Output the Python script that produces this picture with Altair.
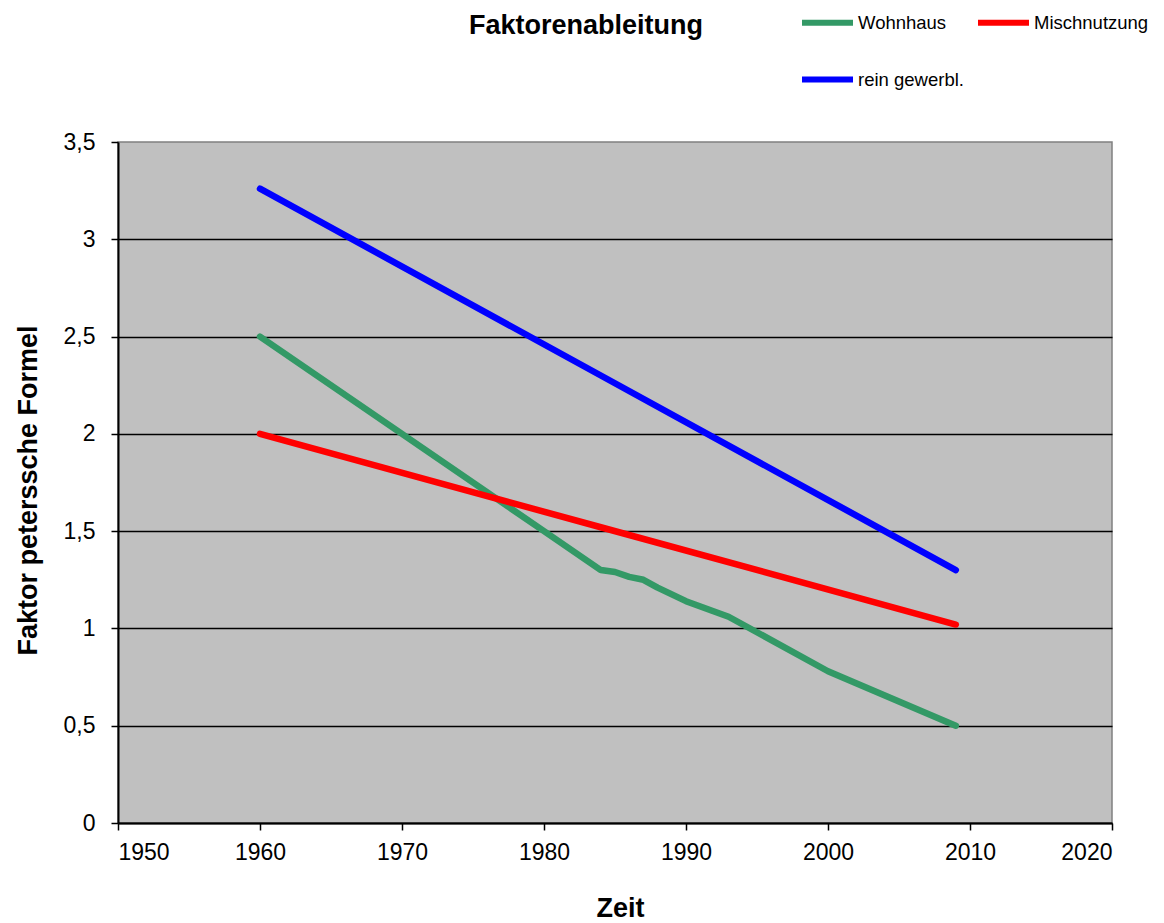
import altair as alt
import pandas as pd

# --- data ---
wohn_years = [1960, 1970, 1980, 1984, 1985, 1986, 1987, 1988, 1990, 1993, 2000, 2009]
wohn_vals = [2.50, 2.00, 1.50, 1.30, 1.29, 1.265, 1.25, 1.21, 1.14, 1.06, 0.78, 0.50]
misch_years = [1960, 1984, 2009]
misch_vals = [2.00, 1.52, 1.02]
gew_years = [1960, 1984, 2009]
gew_vals = [3.26, 2.30, 1.30]

series_names = ["Wohnhaus", "Mischnutzung", "rein gewerbl."]
series_colors = ["#339966", "#FF0000", "#0000FF"]
x_ticks = [1950, 1960, 1970, 1980, 1990, 2000, 2010, 2020]
y_ticks = [0, 0.5, 1, 1.5, 2, 2.5, 3, 3.5]

rows = []
for name, ys, vs in zip(series_names,
                        [wohn_years, misch_years, gew_years],
                        [wohn_vals, misch_vals, gew_vals]):
    for y, v in zip(ys, vs):
        rows.append({"Jahr": y, "Faktor": v, "Serie": name})
df = pd.DataFrame(rows)

FONT = "Liberation Sans"

chart = alt.Chart(df).mark_line(strokeWidth=6.5, strokeCap="round", strokeJoin="round").encode(
    x=alt.X("Jahr:Q",
            scale=alt.Scale(domain=[1950, 2020], nice=False, zero=False),
            axis=alt.Axis(values=x_ticks, format="d", title="Zeit", grid=False,
                          domainColor="black", domainWidth=2, tickColor="black",
                          tickWidth=1.5, tickSize=7, labelPadding=11,
                          labelFontSize=23, labelColor="black", labelFont=FONT,
                          titleFont=FONT, titleFontSize=27, titleFontWeight="bold",
                          titleColor="black", titleX=502, titleY=85,
                          titleBaseline="middle", titleAlign="center")),
    y=alt.Y("Faktor:Q",
            scale=alt.Scale(domain=[0, 3.5], nice=False),
            axis=alt.Axis(values=y_ticks,
                          labelExpr="replace(toString(datum.value), '.', ',')",
                          title="Faktor peterssche Formel",
                          grid=True,
                          gridColor={"condition": {"test": "datum.value >= 3.5", "value": "transparent"},
                                     "value": "black"},
                          gridWidth=1.5,
                          domainColor="black", domainWidth=2, tickColor="black",
                          tickWidth=1.5, tickSize=7, labelPadding=16,
                          labelFontSize=23, labelColor="black", labelFont=FONT,
                          titleFont=FONT, titleFontSize=27, titleFontWeight="bold",
                          titleColor="black", titleX=-90, titleY=348,
                          titleBaseline="middle", titleAlign="center", titleAngle=-90)),
    color=alt.Color("Serie:N",
                    scale=alt.Scale(domain=series_names, range=series_colors),
                    sort=series_names,
                    legend=alt.Legend(title=None, orient="none", legendX=681, legendY=-148,
                                      columns=2, columnPadding=2, rowPadding=16,
                                      symbolType="stroke", symbolSize=2601,
                                      symbolStrokeWidth=6, labelOffset=2,
                                      labelFont=FONT, labelFontSize=18.5, labelColor="black",
                                      padding=0, direction="horizontal")),
).properties(
    width=994,
    height=681,
    title=alt.TitleParams("Faktorenableitung", font=FONT, fontSize=27, fontWeight="bold",
                          color="black", anchor="middle", dx=-29, offset=0, dy=67,
                          baseline="alphabetic"),
    padding={"left": 110, "top": 134, "right": 44, "bottom": 100},
    autosize=alt.AutoSizeParams(type="none"),
    background="white",
).configure_view(
    fill="#C0C0C0", stroke="#808080", strokeWidth=1.5
)

chart.save("out.html", embed_options={"renderer": "svg", "actions": False})
